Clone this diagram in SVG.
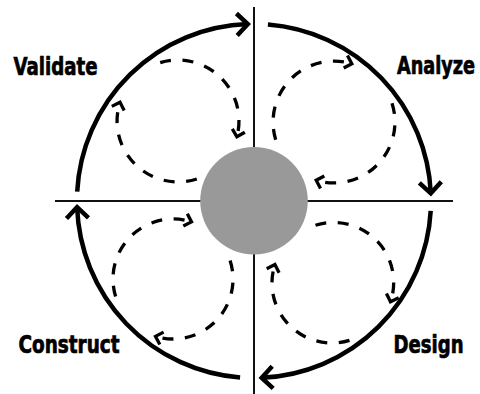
<svg xmlns="http://www.w3.org/2000/svg" width="480" height="394" viewBox="0 0 480 394">
<defs>
<style>
.axis{stroke:#111;stroke-width:2;fill:none}
.big{stroke:#000;stroke-width:4.5;fill:none;marker-end:url(#bigArrow)}
.dash{stroke:#000;stroke-width:3.3;fill:none;stroke-dasharray:11 11.5;marker-end:url(#smallArrow)}
.lbl{font-family:"Liberation Sans Narrow","DejaVu Sans Condensed","Liberation Sans",Arial,sans-serif;font-weight:bold;font-size:25px;fill:#000;stroke:#000;stroke-width:0.7}
.hub{fill:#999999}
</style>
<marker id="bigArrow" markerUnits="userSpaceOnUse" viewBox="-16 -15 21 30" markerWidth="21" markerHeight="30" refX="0" refY="0" orient="auto">
<path d="M-11,-11 L0,0 L-11,11" fill="none" stroke="#000" stroke-width="4.5" stroke-linejoin="miter" stroke-dasharray="none"/>
</marker>
<marker id="smallArrow" markerUnits="userSpaceOnUse" viewBox="-11 -10 15 20" markerWidth="15" markerHeight="20" refX="0" refY="0" orient="auto">
<path d="M-6.5,-6.5 L0,0 L-6.5,6.5" fill="none" stroke="#000" stroke-width="3.3" stroke-linejoin="miter" stroke-dasharray="none"/>
</marker>
</defs>
<rect width="480" height="394" fill="#ffffff"/>
<g id="axes">
<line class="axis" x1="254" y1="7" x2="254" y2="394"/>
<line class="axis" x1="55" y1="201" x2="453" y2="201"/>
</g>
<g id="connectors">
<path class="big" d="M77.2,191.7 A177,177 0 0 1 247.8,24.1"/>
<path class="big" d="M267.9,24.5 A177,177 0 0 1 430.8,193.3"/>
<path class="big" d="M430.7,210.9 A177,177 0 0 1 261.7,377.8"/>
<path class="big" d="M240.1,377.5 A177,177 0 0 1 77.1,207.2"/>
<path class="dash" d="M196.8,179 A61,61 0 0 1 120,102.2"/>
<path class="dash" d="M160.2,62.7 A61,61 0 0 1 236.9,136.8"/>
<path class="dash" d="M275.7,139.8 A61,61 0 0 1 351.8,63.7"/>
<path class="dash" d="M392,103.2 A61,61 0 0 1 316.2,180.3"/>
<path class="dash" d="M315.5,225.3 A60,60 0 0 1 390.5,301.8"/>
<path class="dash" d="M349.5,340.4 A60,60 0 0 1 274.9,264.5"/>
<path class="dash" d="M115.6,296.5 A60,60 0 0 1 191.5,221.9"/>
<path class="dash" d="M230.1,260.5 A60,60 0 0 1 155.5,336.4"/>
</g>
<g id="hub">
<circle class="hub" cx="254" cy="200.8" r="53.8"/>
</g>
<g id="validate">
<text class="lbl" x="13.5" y="75" textLength="84" lengthAdjust="spacingAndGlyphs">Validate</text>
</g>
<g id="analyze">
<text class="lbl" x="397" y="74" textLength="78" lengthAdjust="spacingAndGlyphs">Analyze</text>
</g>
<g id="construct">
<text class="lbl" x="18.5" y="353" textLength="101" lengthAdjust="spacingAndGlyphs">Construct</text>
</g>
<g id="design">
<text class="lbl" x="393.5" y="353" textLength="70" lengthAdjust="spacingAndGlyphs">Design</text>
</g>
</svg>
